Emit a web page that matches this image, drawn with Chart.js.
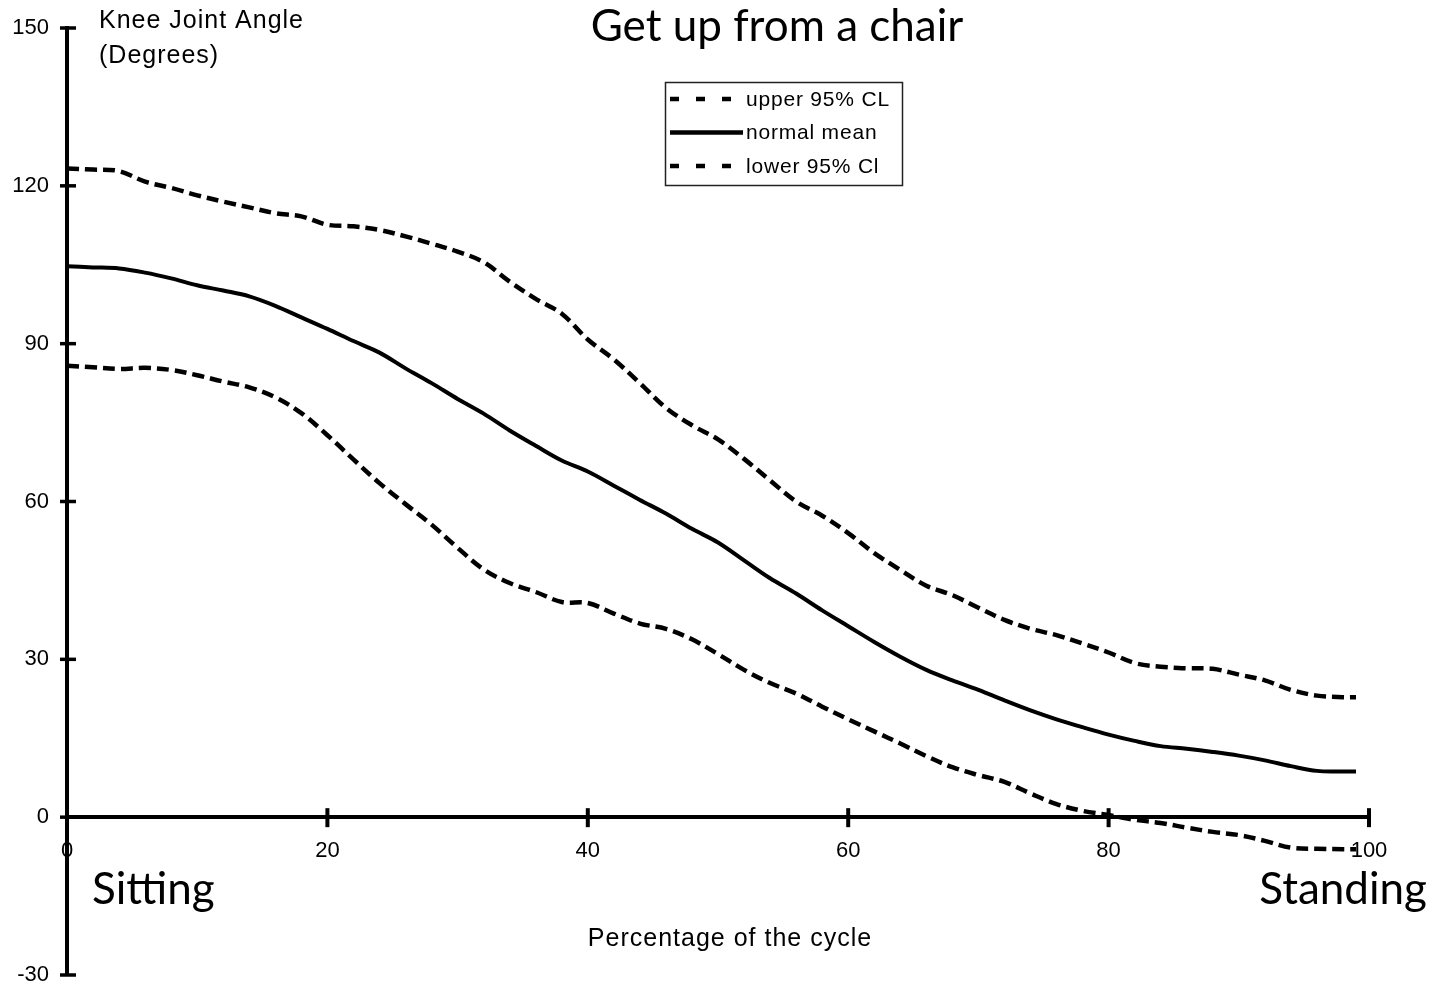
<!DOCTYPE html>
<html>
<head>
<meta charset="utf-8">
<script src="https://cdn.jsdelivr.net/npm/chart.js@4.4.1/dist/chart.umd.min.js"></script>
<style>
  html, body { margin: 0; padding: 0; background: #ffffff; }
  #wrap { position: relative; width: 1433px; height: 982px; }
</style>
</head>
<body>
<div id="wrap"><canvas id="c"></canvas></div>
<script>
// ---- Data ----
const percentCycle = [0,2,4,6,8,10,12,14,16,18,20,22,24,26,28,30,32,34,36,38,40,42,44,46,48,50,52,54,56,58,60,62,64,66,68,70,72,74,76,78,80,82,84,86,88,90,92,94,96,98,99];

const upperCL = [123.3,123.1,122.8,120.8,119.6,118.2,117.0,115.9,114.8,114.2,112.6,112.3,111.6,110.4,109.0,107.5,105.5,101.8,98.5,95.7,90.8,87.0,82.5,77.8,74.5,71.8,68.1,64.0,60.0,57.3,54.0,50.2,47.0,44.0,42.2,39.8,37.5,35.8,34.6,33.0,31.3,29.3,28.6,28.3,28.2,27.1,26.0,24.2,23.1,22.8,22.8];

const normalMean = [104.7,104.5,104.3,103.5,102.4,101.1,100.1,99.0,97.2,95.0,92.8,90.5,88.3,85.3,82.5,79.5,76.7,73.5,70.6,67.8,65.7,63.0,60.3,57.7,54.8,52.2,48.8,45.4,42.5,39.3,36.3,33.3,30.5,28.0,26.0,24.2,22.2,20.3,18.6,17.1,15.7,14.5,13.5,13.0,12.4,11.7,10.8,9.7,8.8,8.7,8.7];

const lowerCL = [85.8,85.5,85.2,85.4,85.0,84.0,82.8,81.7,79.8,76.8,72.6,68.0,63.5,59.5,55.6,51.2,47.1,44.5,42.8,40.9,40.7,38.7,36.8,35.8,33.8,31.0,28.0,25.5,23.5,21.0,18.6,16.3,14.0,11.6,9.5,8.0,6.7,4.5,2.5,1.2,0.4,-0.5,-1.1,-2.0,-2.8,-3.4,-4.5,-5.8,-6.0,-6.1,-6.1];

const seriesLabels = ['upper 95% CL', 'normal mean', 'lower 95% Cl'];
const xTickValues = [0, 20, 40, 60, 80, 100];
const yTickValues = [-30, 0, 30, 60, 90, 120, 150];

const chartTitle = 'Get up from a chair';
const yAxisCaption = ['Knee Joint Angle', '(Degrees)'];
const xAxisCaption = 'Percentage of the cycle';
const startLabel = 'Sitting';
const endLabel = 'Standing';

// ---- Helpers ----
const toPoints = (xs, ys) => xs.map((x, i) => ({ x: x, y: ys[i] }));
const ARIAL = '"Liberation Sans", Arial, sans-serif';
const SANS = 'Lato, "Open Sans", sans-serif';

// Tick marks crossing the axes
const crossTicks = {
  id: 'crossTicks',
  afterDraw(chart) {
    const ctx = chart.ctx;
    const xs = chart.scales.x, ys = chart.scales.y;
    const x0 = ys.left + ys.width; // y-axis line position
    const y0 = ys.getPixelForValue(0);
    ctx.save();
    ctx.strokeStyle = '#000';
    ctx.lineWidth = 4;
    xs.ticks.forEach(t => {
      const px = xs.getPixelForValue(t.value);
      ctx.beginPath();
      ctx.moveTo(px, y0 - 9);
      ctx.lineTo(px, y0 + 10);
      ctx.stroke();
    });
    ctx.lineWidth = 3.5;
    ys.ticks.forEach(t => {
      const py = ys.getPixelForValue(t.value);
      ctx.beginPath();
      ctx.moveTo(x0 - 7, py);
      ctx.lineTo(x0 + 9, py);
      ctx.stroke();
    });
    ctx.restore();
  }
};

// Captions and free text
const captions = {
  id: 'captions',
  afterDraw(chart) {
    const ctx = chart.ctx;
    ctx.save();
    ctx.fillStyle = '#000';
    ctx.textBaseline = 'alphabetic';

    ctx.font = '44px ' + SANS;
    ctx.textAlign = 'center';
    ctx.fillText(chartTitle, 777, 41);

    ctx.textAlign = 'left';
    ctx.fillText(startLabel, 92, 904);
    ctx.textAlign = 'right';
    ctx.fillText(endLabel, 1427, 904);

    ctx.font = '25px ' + ARIAL;
    ctx.letterSpacing = '1px';
    ctx.textAlign = 'left';
    ctx.fillText(yAxisCaption[0], 99, 28);
    ctx.fillText(yAxisCaption[1], 99, 63);

    ctx.textAlign = 'center';
    ctx.fillText(xAxisCaption, 730, 946);
    ctx.restore();
  }
};

// Boxed legend inside the plot
const boxLegend = {
  id: 'boxLegend',
  afterDraw(chart) {
    const ctx = chart.ctx;
    const left = 665, top = 82, w = 237, h = 103;
    ctx.save();
    ctx.strokeStyle = '#222';
    ctx.lineWidth = 1.5;
    ctx.strokeRect(left + 0.5, top + 0.5, w, h);
    chart.data.datasets.forEach((ds, i) => {
      const y = 99 + i * 33.5;
      const dashed = ds.borderDash && ds.borderDash.length;
      ctx.beginPath();
      ctx.lineWidth = 4.5;
      ctx.strokeStyle = '#000';
      ctx.setLineDash(dashed ? [9, 17] : []);
      ctx.moveTo(670, y);
      ctx.lineTo(dashed ? 735 : 743, y);
      ctx.stroke();
      ctx.setLineDash([]);
      ctx.fillStyle = '#000';
      ctx.font = '21px ' + ARIAL;
      ctx.letterSpacing = '0.8px';
      ctx.textAlign = 'left';
      ctx.textBaseline = 'middle';
      ctx.fillText(ds.label, 746, y + 1);
    });
    ctx.restore();
  }
};

const commonLine = {
  borderColor: '#000',
  backgroundColor: '#000',
  pointRadius: 0,
  pointHoverRadius: 0,
  fill: false,
  tension: 0.35,
  borderCapStyle: 'butt'
};

new Chart(document.getElementById('c'), {
  type: 'line',
  data: {
    datasets: [
      Object.assign({}, commonLine, { label: seriesLabels[0], data: toPoints(percentCycle, upperCL), borderWidth: 4.5, borderDash: [12, 6] }),
      Object.assign({}, commonLine, { label: seriesLabels[1], data: toPoints(percentCycle, normalMean), borderWidth: 4, borderDash: [] }),
      Object.assign({}, commonLine, { label: seriesLabels[2], data: toPoints(percentCycle, lowerCL), borderWidth: 4.5, borderDash: [12, 6] })
    ]
  },
  options: {
    responsive: true,
    maintainAspectRatio: false,
    animation: false,
    devicePixelRatio: 1,
    layout: { padding: { left: 0, top: 28, right: 64, bottom: 7 } },
    plugins: {
      legend: { display: false },
      title: { display: false },
      tooltip: { enabled: false }
    },
    scales: {
      x: {
        type: 'linear',
        position: { y: 0 },
        min: 0,
        max: 100,
        afterBuildTicks: s => { s.ticks = xTickValues.map(v => ({ value: v })); },
        afterFit: s => { s.height = 0; s.paddingTop = 0; s.paddingBottom = 0; },
        grid: { display: false, drawTicks: false },
        border: { display: true, color: '#000', width: 4 },
        ticks: {
          color: '#000',
          padding: 21,
          maxRotation: 0,
          font: { family: ARIAL, size: 22 }
        }
      },
      y: {
        type: 'linear',
        position: 'left',
        min: -30,
        max: 150,
        afterBuildTicks: s => { s.ticks = yTickValues.map(v => ({ value: v })); },
        afterFit: s => { s.width = 67; s.paddingTop = 0; s.paddingBottom = 0; },
        grid: { display: false, drawTicks: false },
        border: { display: true, color: '#000', width: 4 },
        ticks: {
          color: '#000',
          padding: 18,
          font: { family: ARIAL, size: 22 }
        }
      }
    }
  },
  plugins: [crossTicks, captions, boxLegend]
});
</script>
</body>
</html>
